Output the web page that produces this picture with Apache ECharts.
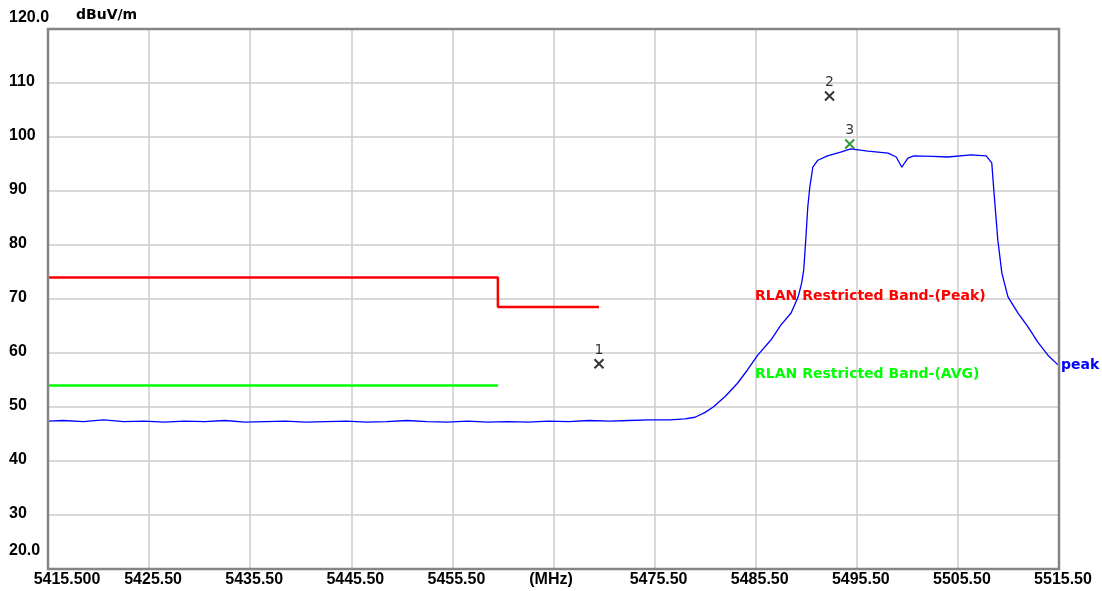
<!DOCTYPE html>
<html><head><meta charset="utf-8">
<script src="https://cdn.jsdelivr.net/npm/echarts@6/dist/echarts.min.js"></script>
<style>html,body{margin:0;padding:0;background:#fff}#c{width:1102px;height:591px}</style>
</head><body><div id="c"></div>
<script>
// ---- data ----
const xStart = 5415.5, xEnd = 5515.5, xStep = 10;
const yMin = 20, yMax = 120, yStep = 10;
const xUnitLabel = '(MHz)';
const yUnitLabel = 'dBuV/m';
const traceName = 'peak';
const peakLimitText = 'RLAN Restricted Band-(Peak)';
const avgLimitText = 'RLAN Restricted Band-(AVG)';

const traceFreq = [
  5415.5, 5417.0, 5419.0, 5421.0, 5423.0, 5425.0, 5427.0, 5429.0, 5431.0, 5433.0,
  5435.0, 5437.0, 5439.0, 5441.0, 5443.0, 5445.0, 5447.0, 5449.0, 5451.0, 5453.0,
  5455.0, 5457.0, 5459.0, 5461.0, 5463.0, 5465.0, 5467.0, 5469.0, 5471.0, 5473.0,
  5475.0, 5477.0, 5478.5, 5479.5, 5480.5, 5481.3, 5482.5, 5483.7, 5484.7, 5485.7,
  5487.0, 5488.0, 5489.0, 5489.7, 5490.05, 5490.25, 5490.45, 5490.65, 5490.85, 5491.15,
  5491.65, 5492.6, 5493.9, 5494.9, 5496.6, 5498.6, 5499.4, 5499.95, 5500.55, 5501.15,
  5503.0, 5504.5, 5506.8, 5508.3, 5508.85, 5509.05, 5509.45, 5509.85, 5510.45, 5511.45,
  5512.45, 5513.4, 5514.4, 5515.4
];
const traceLevel = [
  47.4, 47.5, 47.3, 47.6, 47.3, 47.4, 47.2, 47.4, 47.3, 47.5,
  47.2, 47.3, 47.4, 47.2, 47.3, 47.4, 47.2, 47.3, 47.5, 47.3,
  47.2, 47.4, 47.2, 47.3, 47.2, 47.4, 47.3, 47.5, 47.4, 47.5,
  47.6, 47.6, 47.8, 48.1, 49.0, 50.0, 52.0, 54.4, 56.9, 59.6,
  62.4, 65.2, 67.4, 70.4, 73.0, 75.4, 80.9, 87.0, 90.7, 94.4,
  95.7, 96.5, 97.2, 97.8, 97.4, 97.0, 96.3, 94.4, 96.1, 96.5,
  96.4, 96.3, 96.7, 96.5, 95.2, 90.2, 80.9, 74.8, 70.4, 67.4,
  64.8, 62.0, 59.6, 57.8
];

const peakLimitFreq = [5415.5, 5460.0, 5460.0, 5470.0];
const peakLimitLevel = [74.0, 74.0, 68.5, 68.5];
const avgLimitFreq = [5415.5, 5460.0];
const avgLimitLevel = [54.0, 54.0];

const markerNames = ['1', '2', '3'];
const markerFreq = [5470.0, 5492.8, 5494.8];
const markerLevel = [58.0, 107.6, 98.7];
const markerColors = ['#000000', '#000000', '#008000'];

// ---- build ----
const zip = (a, b) => a.map((v, i) => [v, b[i]]);
const numFont = 'Liberation Sans';
const chart = echarts.init(document.getElementById('c'), null, {renderer: 'canvas'});
const xRich = {
  n: {fontFamily: numFont, fontWeight: 'bold', fontSize: 16, color: '#000', padding: [0, 0, 0, 8]},
  f: {fontFamily: numFont, fontWeight: 'bold', fontSize: 16, color: '#000', padding: [0, 0, 0, 38]},
  u: {fontFamily: numFont, fontWeight: 'bold', fontSize: 16, color: '#000', padding: [0, 5, 0, 0]}
};
const yRich = {
  n: {fontFamily: numFont, fontWeight: 'bold', fontSize: 16, color: '#000', padding: [0, 0, 3, 0]},
  t: {fontFamily: numFont, fontWeight: 'bold', fontSize: 16, color: '#000', padding: [0, 0, 23, 0]},
  b: {fontFamily: numFont, fontWeight: 'bold', fontSize: 16, color: '#000', padding: [0, 0, 36, 0]}
};

chart.setOption({
  animation: false,
  backgroundColor: '#ffffff',
  grid: {left: 48, right: 43, top: 29, bottom: 22, show: true, borderColor: '#858585', borderWidth: 2.5, backgroundColor: 'transparent', z: 10},
  xAxis: {
    type: 'value', min: xStart, max: xEnd, interval: xStep,
    axisLine: {show: false}, axisTick: {show: false},
    splitLine: {show: true, showMinLine: false, showMaxLine: false, lineStyle: {color: '#cdcdcd', width: 1.5}},
    axisLabel: {
      show: true, showMinLabel: true, showMaxLabel: true, margin: 3,
      fontFamily: numFont, fontWeight: 'bold', fontSize: 16, color: '#000',
      formatter: function (v) {
        if (Math.abs(v - (xStart + 5 * xStep)) < 0.01) return '{u|' + xUnitLabel + '}';
        if (Math.abs(v - xStart) < 0.01) return '{f|' + v.toFixed(3) + '}';
        return '{n|' + v.toFixed(2) + '}';
      },
      rich: xRich
    }
  },
  yAxis: {
    type: 'value', min: yMin, max: yMax, interval: yStep,
    axisLine: {show: false}, axisTick: {show: false},
    splitLine: {show: true, showMinLine: false, showMaxLine: false, lineStyle: {color: '#cdcdcd', width: 1.5}},
    axisLabel: {
      show: true, showMinLabel: true, showMaxLabel: true, align: 'left', margin: 39,
      fontFamily: numFont, fontWeight: 'bold', fontSize: 16, color: '#000',
      formatter: function (v) {
        if (v === yMax) return '{t|' + v.toFixed(1) + '}';
        if (v === yMin) return '{b|' + v.toFixed(1) + '}';
        return '{n|' + v + '}';
      },
      rich: yRich
    }
  },
  graphic: [
    {type: 'text', z: 100, x: 76, y: 15, style: {text: yUnitLabel, fill: '#000', font: 'bold 14px "DejaVu Sans"', verticalAlign: 'middle'}},
    {type: 'text', z: 100, x: 755, y: 296, style: {text: peakLimitText, fill: '#ff0000', font: 'bold 14px "DejaVu Sans"', verticalAlign: 'middle'}},
    {type: 'text', z: 100, x: 755, y: 374, style: {text: avgLimitText, fill: '#00ff00', font: 'bold 14px "DejaVu Sans"', verticalAlign: 'middle'}}
  ],
  series: [
    {
      type: 'line', name: 'peakLimit', data: zip(peakLimitFreq, peakLimitLevel),
      showSymbol: false, symbol: 'none', lineStyle: {color: '#ff0000', width: 2.5}, z: 3
    },
    {
      type: 'line', name: 'avgLimit', data: zip(avgLimitFreq, avgLimitLevel),
      showSymbol: false, symbol: 'none', lineStyle: {color: '#00ff00', width: 2.5}, z: 3
    },
    {
      type: 'line', name: traceName, data: zip(traceFreq, traceLevel),
      showSymbol: false, symbol: 'none', lineStyle: {color: '#0000ff', width: 1.3}, z: 4,
      endLabel: {show: true, formatter: traceName, color: '#0000ff', fontFamily: 'DejaVu Sans', fontWeight: 'bold', fontSize: 14, distance: 3}
    },
    {
      type: 'scatter', name: 'markers',
      data: markerNames.map((n, i) => ({
        name: n, value: [markerFreq[i], markerLevel[i]],
        itemStyle: {color: 'transparent', borderColor: markerColors[i], borderWidth: 2}
      })),
      symbol: 'path://M0,0 L10,10 M10,0 L0,10', symbolSize: [9, 9], z: 5,
      label: {show: true, position: 'top', distance: 1, formatter: '{b}', color: '#000', fontFamily: 'DejaVu Sans', fontSize: 14}
    }
  ]
});
</script></body></html>
